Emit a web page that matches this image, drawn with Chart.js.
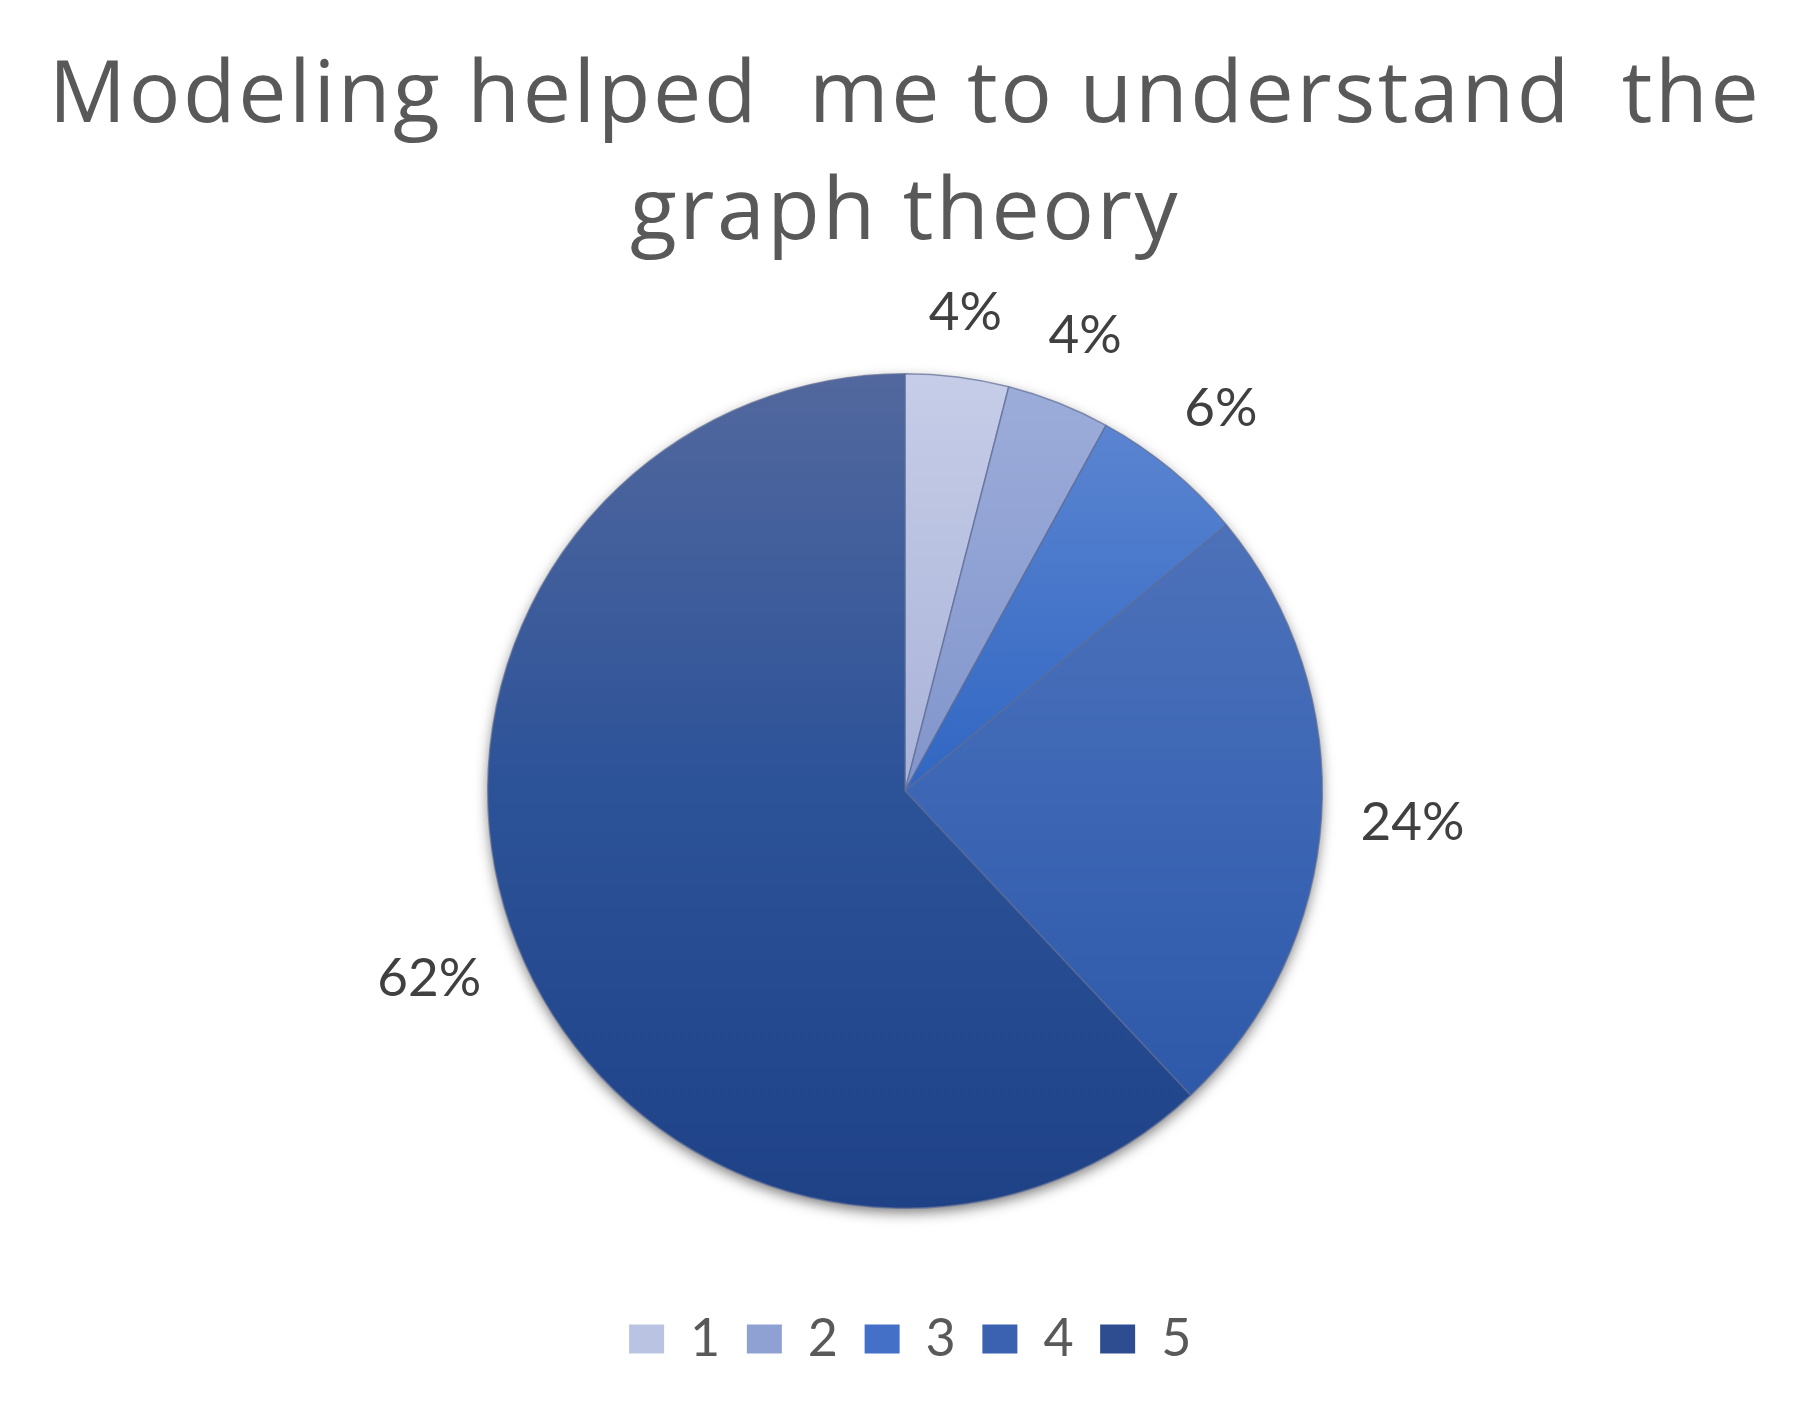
<!DOCTYPE html>
<html>
<head>
<meta charset="utf-8">
<title>Modeling helped me to understand the graph theory</title>
<script src="https://cdn.jsdelivr.net/npm/chart.js@4.4.1/dist/chart.umd.min.js"></script>
<style>
  html, body { margin: 0; padding: 0; background: #ffffff; }
  #wrap { width: 1797px; height: 1404px; position: relative; }
</style>
</head>
<body>
<div id="wrap"><canvas id="chart"></canvas></div>
<script>
// Datos
const categorias = ['1', '2', '3', '4', '5'];
const porcentajes = [4, 4, 6, 24, 62];
const titulo = ['Modeling helped  me to understand  the', 'graph theory'];

// colores de cada porción: arriba, centro, abajo (degradado vertical)
const coloresArriba = ['#c6cde8', '#9dadda', '#6189d3', '#5677bb', '#52689e'];
const coloresCentro = ['#a9b3d8', '#8195cc', '#3066c2', '#3d67b5', '#2c5298'];
const coloresAbajo  = ['#8e9bc9', '#677fbf', '#1f4fae', '#2854a4', '#1f4287'];
const coloresLeyenda = ['#bac3e2', '#8fa0d3', '#4470c8', '#3a62b0', '#2e4d91'];

const FUENTE = 'Lato, "Open Sans", sans-serif';
const FUENTE_TITULO = '"Open Sans", Lato, sans-serif';

function degradado(context) {
  const chart = context.chart;
  const area = chart.chartArea;
  const i = context.dataIndex;
  if (!area || i === undefined) return coloresCentro[i || 0];
  const g = chart.ctx.createLinearGradient(0, area.top, 0, area.bottom);
  g.addColorStop(0, coloresArriba[i]);
  g.addColorStop(0.5, coloresCentro[i]);
  g.addColorStop(1, coloresAbajo[i]);
  return g;
}

// un poco de espacio entre letras para el título (como el original)
const espaciado = {
  id: 'espaciado',
  beforeDraw(chart) { chart.ctx.letterSpacing = '2.6px'; },
  beforeDatasetsDraw(chart) { chart.ctx.letterSpacing = '0px'; }
};

// sombra suave bajo el círculo
const sombra = {
  id: 'sombra',
  beforeDatasetsDraw(chart) {
    const arc = chart.getDatasetMeta(0).data[0];
    if (!arc) return;
    const { x, y, outerRadius } = arc.getProps(['x', 'y', 'outerRadius'], true);
    const ctx = chart.ctx;
    ctx.save();
    ctx.shadowColor = 'rgba(0,0,0,0.55)';
    ctx.shadowBlur = 14;
    ctx.shadowOffsetY = 5;
    ctx.beginPath();
    ctx.arc(x, y, outerRadius - 1, 0, Math.PI * 2);
    ctx.fillStyle = '#2a4a90';
    ctx.fill();
    ctx.restore();
  }
};

// etiquetas de porcentaje fuera del círculo
const etiquetas = {
  id: 'etiquetas',
  afterDatasetsDraw(chart) {
    const ctx = chart.ctx;
    const meta = chart.getDatasetMeta(0);
    ctx.save();
    ctx.font = '53px ' + FUENTE;
    ctx.fillStyle = '#404040';
    ctx.textAlign = 'center';
    ctx.textBaseline = 'middle';
    meta.data.forEach((arc, i) => {
      const p = arc.getProps(['x', 'y', 'startAngle', 'endAngle', 'outerRadius'], true);
      const mid = (p.startAngle + p.endAngle) / 2;
      const texto = porcentajes[i] + '%';
      const hw = ctx.measureText(texto).width / 2;
      const hh = 22;
      const r = p.outerRadius + 38 + hw * Math.abs(Math.cos(mid)) + hh * Math.abs(Math.sin(mid));
      ctx.fillText(texto, p.x + Math.cos(mid) * r, p.y + Math.sin(mid) * r);
    });
    ctx.restore();
  }
};

const config = {
  type: 'pie',
  data: {
    labels: categorias,
    datasets: [{
      data: porcentajes,
      backgroundColor: degradado,
      borderColor: 'rgba(95,110,150,0.7)',
      borderWidth: 1.5,
      hoverOffset: 0,
    }],
  },
  options: {
    responsive: true,
    maintainAspectRatio: false,
    animation: false,
    events: [],
    layout: {
      padding: { left: 13, right: 0, top: 0, bottom: 29 },
    },
    plugins: {
      title: {
        display: true,
        text: titulo,
        color: '#595959',
        font: { family: FUENTE_TITULO, size: 86, weight: 'normal', lineHeight: 1.36 },
        padding: { top: 39, bottom: 100 },
      },
      legend: {
        display: true,
        position: 'bottom',
        title: {
          display: true,
          text: ' ',
          font: { size: 10, lineHeight: 1.2 },
          padding: { top: 68, bottom: 0 },
        },
        labels: {
          color: '#595959',
          font: { family: FUENTE, size: 52 },
          boxWidth: 35,
          boxHeight: 29,
          padding: 24,
          generateLabels(chart) {
            return categorias.map((c, i) => ({
              text: c,
              fillStyle: coloresLeyenda[i],
              strokeStyle: coloresLeyenda[i],
              lineWidth: 0,
              fontColor: '#595959',
              index: i,
              hidden: false,
            }));
          },
        },
      },
      tooltip: { enabled: false },
    },
  },
  plugins: [espaciado, sombra, etiquetas],
};

const ctx = document.getElementById('chart').getContext('2d');
const miGrafico = new Chart(ctx, config);
</script>
</body>
</html>
